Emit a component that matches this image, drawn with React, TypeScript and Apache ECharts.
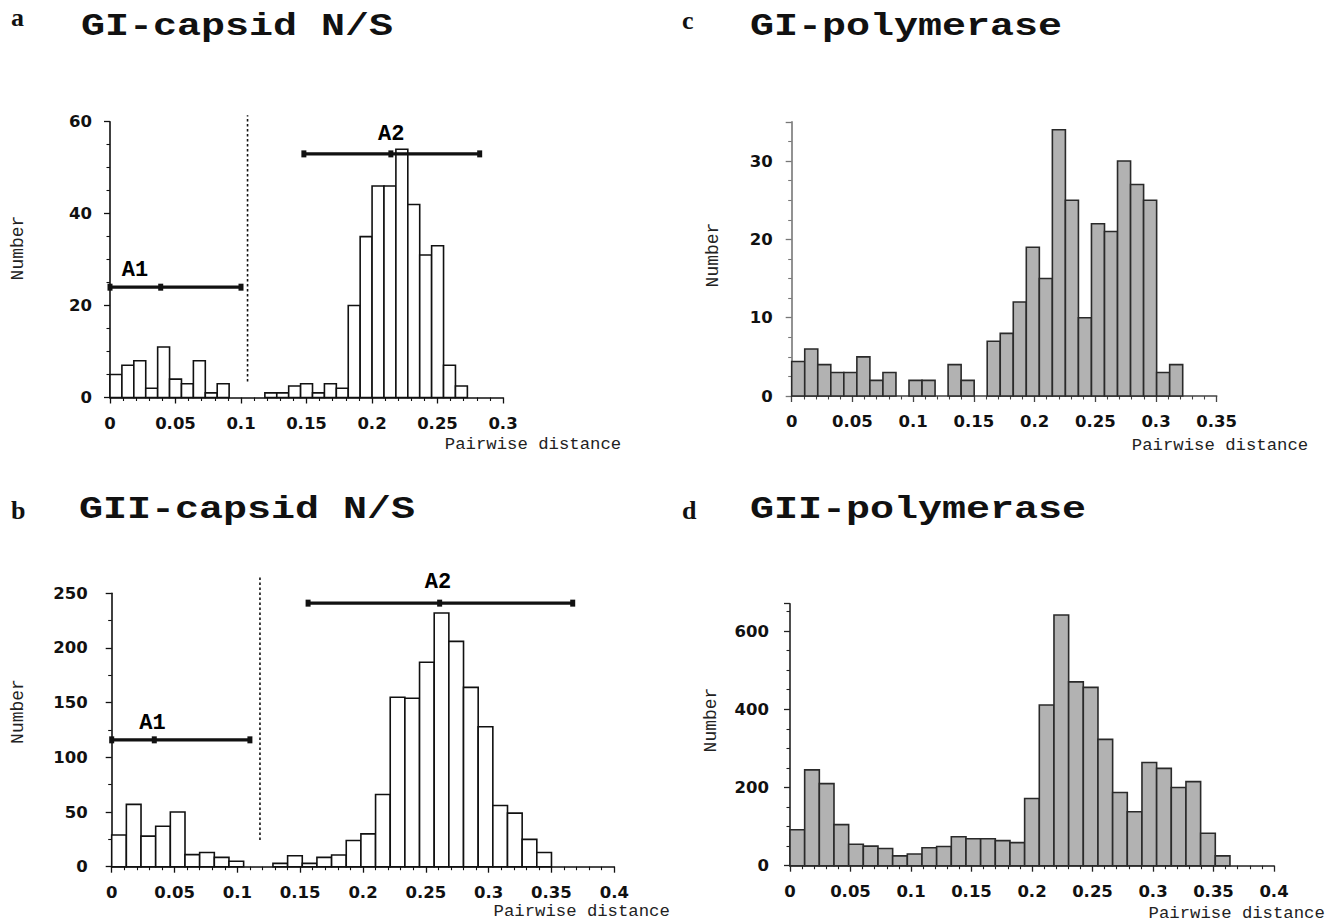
import React, { useEffect, useRef } from "react";
import * as echarts from "echarts";

// ---------- data ----------
// Panel a: GI-capsid N/S (30 bins from 0 to binMax)
const aBinMax = 0.2728;
const aCounts = [5, 7, 8, 2, 11, 4, 3, 8, 1, 3, 0, 0, 0, 1, 1, 2.5, 3, 1, 3, 2, 20, 35, 46, 46, 54, 42, 31, 33, 7, 2.5];
const aA1 = [0, 0.0387, 0.1];
const aA1Y = 24;
const aA2 = [0.148, 0.2144, 0.2822];
const aA2Y = 53;
const aCut = [0.105, 3.5, 61.4];
const aLabelA1 = [0.019, 27.7];
const aLabelA2 = [0.2147, 57.3];

// Panel b: GII-capsid N/S
const bBinMax = 0.35;
const bCounts = [29, 57, 28, 37, 50, 11, 13, 8.5, 5, 0, 0, 3, 10, 3, 8.5, 10.7, 24, 30, 66, 155, 154, 187, 232, 206, 164, 128, 56, 49, 25, 13];
const bA1 = [0, 0.0339, 0.11];
const bA1Y = 116;
const bA2 = [0.1563, 0.261, 0.3669];
const bA2Y = 241;
const bCut = [0.118, 24.4, 266.7];
const bLabelA1 = [0.0324, 131];
const bLabelA2 = [0.2596, 260];

// Panel c: GI-polymerase
const cBinMax = 0.322;
const cCounts = [4.4, 6, 4, 3, 3, 5, 2, 3, 0, 2, 2, 0, 4, 2, 0, 7, 8, 12, 19, 15, 34, 25, 10, 22, 21, 30, 27, 25, 3, 4];

// Panel d: GII-polymerase
const dBinMax = 0.3636;
const dCounts = [92, 245, 210, 105, 55, 50, 44, 25, 30, 46, 49, 74, 69, 69, 64, 59, 172, 411, 641, 470, 456, 323, 187, 138, 264, 249, 200, 215, 83, 25];

const panelLetters = ["a", "b", "c", "d"];
const panelTitles = ["GI-capsid N/S", "GII-capsid N/S", "GI-polymerase", "GII-polymerase"];
const yName = "Number";
const xName = "Pairwise distance";

// ---------- helpers ----------
const binData = (counts: number[], max: number) => {
  const w = max / counts.length;
  return counts
    .map((c, i) => [i * w, (i + 1) * w, c])
    .filter((d) => d[2] > 0);
};

const barSeries = (idx: number, counts: number[], max: number, fill: string, stroke: string) => ({
  type: "custom",
  xAxisIndex: idx,
  yAxisIndex: idx,
  data: binData(counts, max),
  encode: { x: [0, 1], y: 2 },
  clip: false,
  renderItem: (params: any, api: any) => {
    const p0 = api.coord([api.value(0), api.value(2)]);
    const p1 = api.coord([api.value(1), 0]);
    return {
      type: "rect",
      shape: { x: p0[0], y: p0[1], width: p1[0] - p0[0], height: p1[1] - p0[1] },
      style: { fill, stroke, lineWidth: 1.6 },
    };
  },
});

const rangeSeries = (idx: number, xs: number[], y: number) => ({
  type: "line",
  xAxisIndex: idx,
  yAxisIndex: idx,
  data: xs.map((x) => [x, y]),
  symbol: "rect",
  symbolSize: [5, 7],
  showAllSymbol: true,
  clip: false,
  lineStyle: { color: "#111", width: 3.2 },
  itemStyle: { color: "#111" },
  z: 5,
});

const cutSeries = (idx: number, cut: number[]) => ({
  type: "line",
  xAxisIndex: idx,
  yAxisIndex: idx,
  data: [
    [cut[0], cut[1]],
    [cut[0], cut[2]],
  ],
  symbol: "none",
  clip: false,
  lineStyle: { color: "#111", width: 1.6, type: [2.5, 2.5] },
});

const labelSeries = (idx: number, pos: number[], text: string) => ({
  type: "scatter",
  xAxisIndex: idx,
  yAxisIndex: idx,
  data: [pos],
  symbolSize: 0,
  clip: false,
  itemStyle: { opacity: 1, color: "#000" },
  label: {
    show: true,
    position: "inside",
    formatter: text,
    fontFamily: "Liberation Mono",
    fontWeight: "bold",
    fontSize: 22,
    color: "#000",
    opacity: 1,
    textBorderWidth: 0,
  },
  z: 6,
});

const tickFont = { fontFamily: "DejaVu Sans", fontWeight: "bold", fontSize: 16.5, color: "#111" };

const makeXAxis = (idx: number, max: number, color: string) => ({
  type: "value",
  gridIndex: idx,
  min: 0,
  max,
  interval: 0.05,
  axisLine: { show: true, onZero: false, lineStyle: { color, width: 1.6 } },
  axisTick: { show: true, length: 6, lineStyle: { color, width: 1.3 } },
  minorTick: { show: true, splitNumber: 5, length: 3.5, lineStyle: { color, width: 1.1 } },
  splitLine: { show: false },
  axisLabel: { ...tickFont, margin: 17 },
});

const makeYAxis = (idx: number, max: number, interval: number, minorSplit: number, color: string, margin: number) => ({
  type: "value",
  gridIndex: idx,
  min: 0,
  max,
  interval,
  axisLine: { show: true, lineStyle: { color, width: 1.6 } },
  axisTick: { show: true, length: 6, lineStyle: { color, width: 1.3 } },
  minorTick: { show: true, splitNumber: minorSplit, length: 3.5, lineStyle: { color, width: 1.1 } },
  splitLine: { show: false },
  axisLabel: { ...tickFont, margin, showMaxLabel: max % interval === 0 },
});

export default function App() {
  const ref = useRef<HTMLDivElement>(null);

  useEffect(() => {
    if (!ref.current) return;
    const chart = echarts.init(ref.current, undefined, { renderer: "svg" });

    const titleText = (x: number, y: number, text: string) => ({
      type: "text",
      x,
      y,
      scaleX: 1.25,
      style: {
        text,
        fontFamily: "Liberation Mono",
        fontWeight: "bold",
        fontSize: 32,
        fill: "#111",
        verticalAlign: "middle",
      },
    });
    const letterText = (x: number, y: number, text: string) => ({
      type: "text",
      x,
      y,
      style: {
        text,
        fontFamily: "Liberation Serif",
        fontWeight: "bold",
        fontSize: 26,
        fill: "#111",
        verticalAlign: "middle",
      },
    });
    const yNameText = (x: number, y: number) => ({
      type: "text",
      x,
      y,
      rotation: Math.PI / 2,
      style: {
        text: yName,
        fontFamily: "Liberation Mono",
        fontSize: 18,
        fill: "#222",
        align: "center",
        verticalAlign: "middle",
      },
    });
    const xNameText = (x: number, y: number) => ({
      type: "text",
      x,
      y,
      style: {
        text: xName,
        fontFamily: "Liberation Mono",
        fontSize: 17.3,
        fill: "#222",
        align: "center",
        verticalAlign: "middle",
      },
    });

    chart.setOption({
      animation: false,
      backgroundColor: "#fff",
      grid: [
        { left: 110, top: 121.7, width: 393, height: 275.8, containLabel: false, outerBoundsMode: "none" },
        { left: 111.7, top: 593.3, width: 502.6, height: 273.4, containLabel: false, outerBoundsMode: "none" },
        { left: 791.7, top: 121.9, width: 425, height: 274.1, containLabel: false, outerBoundsMode: "none" },
        { left: 790, top: 603.7, width: 484, height: 262, containLabel: false, outerBoundsMode: "none" },
      ],
      xAxis: [
        makeXAxis(0, 0.3, "#111"),
        makeXAxis(1, 0.4, "#111"),
        makeXAxis(2, 0.35, "#444"),
        makeXAxis(3, 0.4, "#222"),
      ],
      yAxis: [
        makeYAxis(0, 60, 20, 4, "#111", 18),
        makeYAxis(1, 250, 50, 2, "#111", 24),
        makeYAxis(2, 35, 10, 4, "#777", 19),
        makeYAxis(3, 670, 200, 4, "#222", 21),
      ],
      series: [
        barSeries(0, aCounts, aBinMax, "#ffffff", "#111"),
        rangeSeries(0, aA1, aA1Y),
        rangeSeries(0, aA2, aA2Y),
        cutSeries(0, aCut),
        labelSeries(0, aLabelA1, "A1"),
        labelSeries(0, aLabelA2, "A2"),

        barSeries(1, bCounts, bBinMax, "#ffffff", "#111"),
        rangeSeries(1, bA1, bA1Y),
        rangeSeries(1, bA2, bA2Y),
        cutSeries(1, bCut),
        labelSeries(1, bLabelA1, "A1"),
        labelSeries(1, bLabelA2, "A2"),

        barSeries(2, cCounts, cBinMax, "#b2b2b2", "#2a2a2a"),
        barSeries(3, dCounts, dBinMax, "#b2b2b2", "#2a2a2a"),
      ],
      graphic: [
        letterText(11, 17, panelLetters[0]),
        titleText(81, 26.5, panelTitles[0]),
        letterText(11, 510, panelLetters[1]),
        titleText(79, 509.5, panelTitles[1]),
        letterText(682, 20, panelLetters[2]),
        titleText(750, 26.5, panelTitles[2]),
        letterText(682, 510, panelLetters[3]),
        titleText(750, 509.5, panelTitles[3]),

        yNameText(18, 248),
        yNameText(17.5, 711.5),
        yNameText(712.5, 255),
        yNameText(711, 720),

        xNameText(533, 444),
        xNameText(581.7, 911),
        xNameText(1220, 445),
        xNameText(1236.7, 913),
      ],
    });

    return () => chart.dispose();
  }, []);

  return (
    <div
      ref={ref}
      style={{ position: "absolute", left: 0, top: 0, width: 1328, height: 921, background: "#fff" }}
    />
  );
}
